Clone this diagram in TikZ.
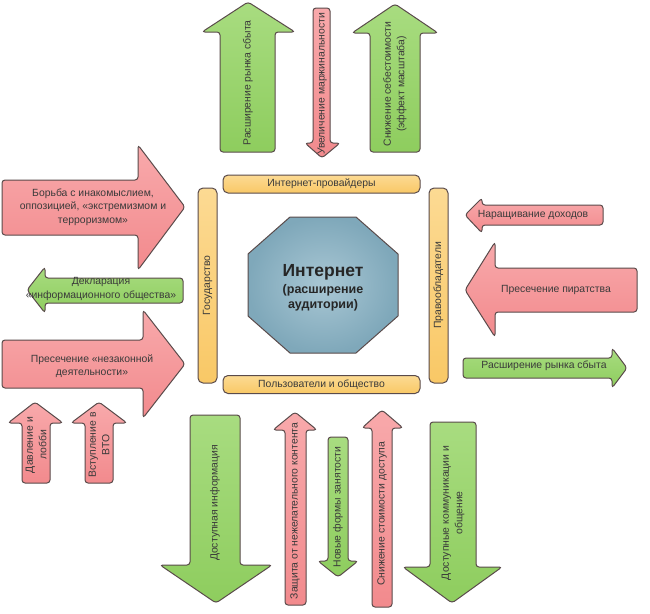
\documentclass[tikz,border=0pt]{standalone}
\usepackage{fontspec}
\setmainfont{Liberation Sans}
\usepackage{xcolor}
\usepackage{tikz}
\definecolor{ArRed}{HTML}{F28A8D}
\definecolor{ArRedLt}{HTML}{F8A9AB}
\definecolor{ArGreen}{HTML}{8ECD5E}
\definecolor{ArGreenLt}{HTML}{A8DC80}
\definecolor{BarOrange}{HTML}{F9C866}
\definecolor{BarOrangeLt}{HTML}{FCDA93}
\definecolor{OctBlue}{HTML}{7FA8BA}
\definecolor{OctBlueLt}{HTML}{A9C7D4}
\definecolor{EdgeGray}{HTML}{5A4B4B}
\definecolor{TxtGray}{HTML}{3A3A3A}

\tikzset{
  redarrow/.style={draw=EdgeGray, line width=1pt, rounded corners=3pt, top color=ArRedLt, bottom color=ArRed},
  greenarrow/.style={draw=EdgeGray, line width=1pt, rounded corners=3pt, top color=ArGreenLt, bottom color=ArGreen},
  bar/.style={draw=EdgeGray, line width=1pt, rounded corners=5pt, top color=BarOrangeLt, bottom color=BarOrange,
    inner sep=0pt, text=TxtGray, font=\fontsize{10.4}{13.5}\selectfont},
  lbl/.style={font=\fontsize{10.4}{13.5}\selectfont, text=TxtGray, align=center, inner sep=0pt},
  vlbl/.style={lbl, rotate=90},
  octa/.style={draw=EdgeGray, line width=1pt, inner color=OctBlueLt, outer color=OctBlue},
  octatext/.style={align=center, text=black!85, font=\bfseries\fontsize{12.5}{15}\selectfont, inner sep=0pt}
}

\begin{document}
\begin{tikzpicture}[x=1pt,y=-1pt]
\path[use as bounding box, fill=white] (0,0) rectangle (650,613);
% upper arrows
\draw[greenarrow] (220,152) -- (220,32) -- (202,32) -- (248,2) -- (295,32) -- (275,32) -- (275,152) -- cycle;
\node[vlbl] (rynok1) at (248,83) {Расширение рынка сбыта};
\draw[redarrow] (313,8) -- (313,143) -- (305,143) -- (322,158) -- (340,143) -- (330,143) -- (330,8) -- cycle;
\node[vlbl] (marzha) at (322,84) {Увеличение маржинальности};
\draw[greenarrow] (370,152) -- (370,33) -- (352,33) -- (395,4) -- (438,33) -- (420,33) -- (420,152) -- cycle;
\node[vlbl] (sebest) at (395,84) {Снижение себестоимости\\(эффект масштаба)};
% left arrows
\draw[redarrow] (2,180) -- (138,180) -- (138,145) -- (185,207) -- (138,270) -- (138,235) -- (2,235) -- cycle;
\node[lbl] (borba) at (93,207) {Борьба с инакомыслием,\\оппозицией, «экстремизмом и\\терроризмом»};
\draw[greenarrow] (183,278) -- (45,278) -- (45,267) -- (27,290) -- (45,313) -- (45,303) -- (183,303) -- cycle;
\node[lbl] (deklar) at (101,289) {Декларация\\«информационного общества»};
\draw[redarrow] (2,340) -- (143,340) -- (143,310) -- (185,364) -- (143,418) -- (143,388) -- (2,388) -- cycle;
\node[lbl] (nezak) at (92,366) {Пресечение «незаконной\\деятельности»};
\draw[redarrow] (22,483) -- (22,423) -- (8,423) -- (35,402) -- (63,423) -- (50,423) -- (50,483) -- cycle;
\node[vlbl] (lobbi) at (36,445) {Давление и\\лобби};
\draw[redarrow] (85,483) -- (85,423) -- (71,423) -- (99,402) -- (127,423) -- (113,423) -- (113,483) -- cycle;
\node[vlbl] (vto) at (99,445) {Вступление в\\ВТО};
% right arrows
\draw[redarrow] (603,205) -- (482,205) -- (482,198) -- (465,215) -- (482,233) -- (482,225) -- (603,225) -- cycle;
\node[lbl] (dohod) at (533,215) {Наращивание доходов};
\draw[redarrow] (637,268) -- (495,268) -- (495,242) -- (465,290) -- (495,337) -- (495,312) -- (637,312) -- cycle;
\node[lbl] (piraty) at (556,290) {Пресечение пиратства};
\draw[greenarrow] (463,358) -- (612,358) -- (612,348) -- (627,368) -- (612,388) -- (612,378) -- (463,378) -- cycle;
\node[lbl] (rynok2) at (544,366) {Расширение рынка сбыта};
% lower arrows
\draw[greenarrow] (190,415) -- (190,565) -- (160,565) -- (216,603) -- (272,565) -- (240,565) -- (240,415) -- cycle;
\node[vlbl] (dostinf) at (215,503) {Доступная информация};
\draw[redarrow] (285,605) -- (285,430) -- (273,430) -- (295,412) -- (317,430) -- (306,430) -- (306,605) -- cycle;
\node[vlbl] (zaschita) at (295,511) {Защита от нежелательного контента};
\draw[greenarrow] (328,437) -- (328,561) -- (318,561) -- (338,577) -- (358,561) -- (348,561) -- (348,437) -- cycle;
\node[vlbl] (zanyat) at (338,507) {Новые формы занятости};
\draw[redarrow] (372,607) -- (372,428) -- (362,428) -- (382,410) -- (403,428) -- (392,428) -- (392,607) -- cycle;
\node[vlbl] (stoim) at (382,514) {Снижение стоимости доступа};
\draw[greenarrow] (430,422) -- (430,567) -- (403,567) -- (452,603) -- (502,567) -- (476,567) -- (476,422) -- cycle;
\node[vlbl] (kommun) at (453,513) {Доступные коммуникации и\\общение};
% bars round the centre
\node[bar, minimum width=197pt, minimum height=18pt] (prov) at (321.5,184) {Интернет-провайдеры};
\node[bar, minimum width=197pt, minimum height=18pt] (polz) at (321.5,384.5) {Пользователи и общество};
\node[bar, rotate=90, minimum width=195pt, minimum height=19pt] (gos) at (207.5,285.5) {Государство};
\node[bar, rotate=90, minimum width=195pt, minimum height=19pt] (pravo) at (438.5,285.5) {Правообладатели};
% centre
\draw[octa] (290,217) -- (356,217) -- (398,254) -- (398,316) -- (356,353) -- (290,353) -- (248,316) -- (248,254) -- cycle;
\node[octatext] (inet) at (323,288) {{\fontsize{17.5}{21}\selectfont Интернет}\\[2pt]
  (расширение\\аудитории)};
\end{tikzpicture}
\end{document}
